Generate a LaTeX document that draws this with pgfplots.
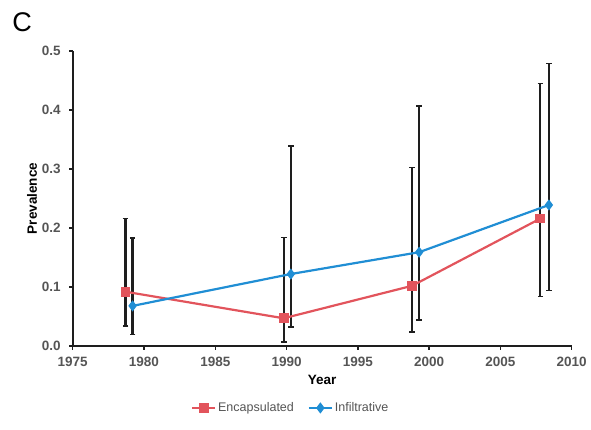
\documentclass[border=0pt]{standalone}
\usepackage{fontspec}
\setmainfont{Liberation Sans}
\usepackage{pgfplots}
\pgfplotsset{compat=1.18}
\definecolor{encred}{RGB}{226,84,92}
\definecolor{infblue}{RGB}{32,142,212}
\definecolor{ticktext}{RGB}{85,85,85}
\definecolor{barcol}{RGB}{30,30,30}
\begin{document}
\begin{tikzpicture}[x=1pt,y=1pt]
\useasboundingbox (0,0) rectangle (591,429);
\node[font=\fontsize{27}{27}\selectfont] at (22,407) {C};
\begin{axis}[
  at={(72.7pt,83pt)}, anchor=origin,
  scale only axis, width=499pt, height=295pt,
  xmin=1975, xmax=2010, ymin=0, ymax=0.5,
  axis x line*=bottom, axis y line*=left,
  axis line style={line width=1.8pt, barcol},
  xtick={1975,1980,...,2010}, ytick={0,0.1,...,0.5},
  tick align=outside, major tick length=3.5pt,
  tick style={line width=1.4pt, barcol},
  /pgf/number format/assume math mode=true,
  tick label style={font=\fontsize{13.5}{13.5}\selectfont\bfseries, text=ticktext},
  xticklabel style={/pgf/number format/1000 sep={}, yshift=-4pt},
  yticklabel style={/pgf/number format/fixed, /pgf/number format/fixed zerofill, /pgf/number format/precision=1, xshift=-5pt},
  xlabel={Year}, ylabel={Prevalence},
  label style={font=\fontsize{13.5}{13.5}\selectfont\bfseries},
  xlabel style={yshift=-2pt},
  ylabel style={yshift=-2pt},
  legend style={draw=none, fill=none, at={(0.437,-0.21)}, anchor=center,
    legend columns=2, font=\fontsize{12.5}{12.5}\selectfont, text=ticktext,
    /tikz/every even column/.append style={column sep=12pt}},
  legend cell align=left,
  legend image code/.code={%
    \draw[#1, line width=2.2pt] (0cm,0cm) -- (0.8cm,0cm);
    \draw[#1, mark repeat=2, mark phase=2] plot coordinates {(0cm,0cm) (0.4cm,0cm) (0.8cm,0cm)};},
  clip=false,
]
% error bars
\addplot[barcol, line width=2pt, only marks, mark=none, forget plot,
  error bars/.cd, y dir=both, y explicit,
  error bar style={line width=2.2pt, barcol},
  error mark options={rotate=90, mark size=2.8pt, line width=1.4pt, barcol}]
  table[x=x, y=y, y error plus=ep, y error minus=em] {
x y ep em
1978.7 0.092 0.124 0.058
1989.8 0.047 0.137 0.040
1998.8 0.102 0.201 0.078
2007.8 0.216 0.229 0.132
};
\addplot[barcol, line width=2pt, only marks, mark=none, forget plot,
  error bars/.cd, y dir=both, y explicit,
  error bar style={line width=2.2pt, barcol},
  error mark options={rotate=90, mark size=2.8pt, line width=1.4pt, barcol}]
  table[x=x, y=y, y error plus=ep, y error minus=em] {
x y ep em
1979.2 0.068 0.115 0.048
1990.3 0.122 0.217 0.090
1999.3 0.159 0.248 0.115
2008.4 0.239 0.240 0.145
};
\addplot[encred, line width=2.2pt, mark=square*, mark size=3.8pt, mark options={solid, fill=encred}]
  table[x=x, y=y] {
x y
1978.7 0.092
1989.8 0.047
1998.8 0.102
2007.8 0.216
};
\addlegendentry{Encapsulated}
\addplot[infblue, line width=2.2pt, mark=diamond*, mark size=3.8pt, mark options={solid, fill=infblue}]
  table[x=x, y=y] {
x y
1979.2 0.068
1990.3 0.122
1999.3 0.159
2008.4 0.239
};
\addlegendentry{Infiltrative}
\end{axis}
\end{tikzpicture}
\end{document}
